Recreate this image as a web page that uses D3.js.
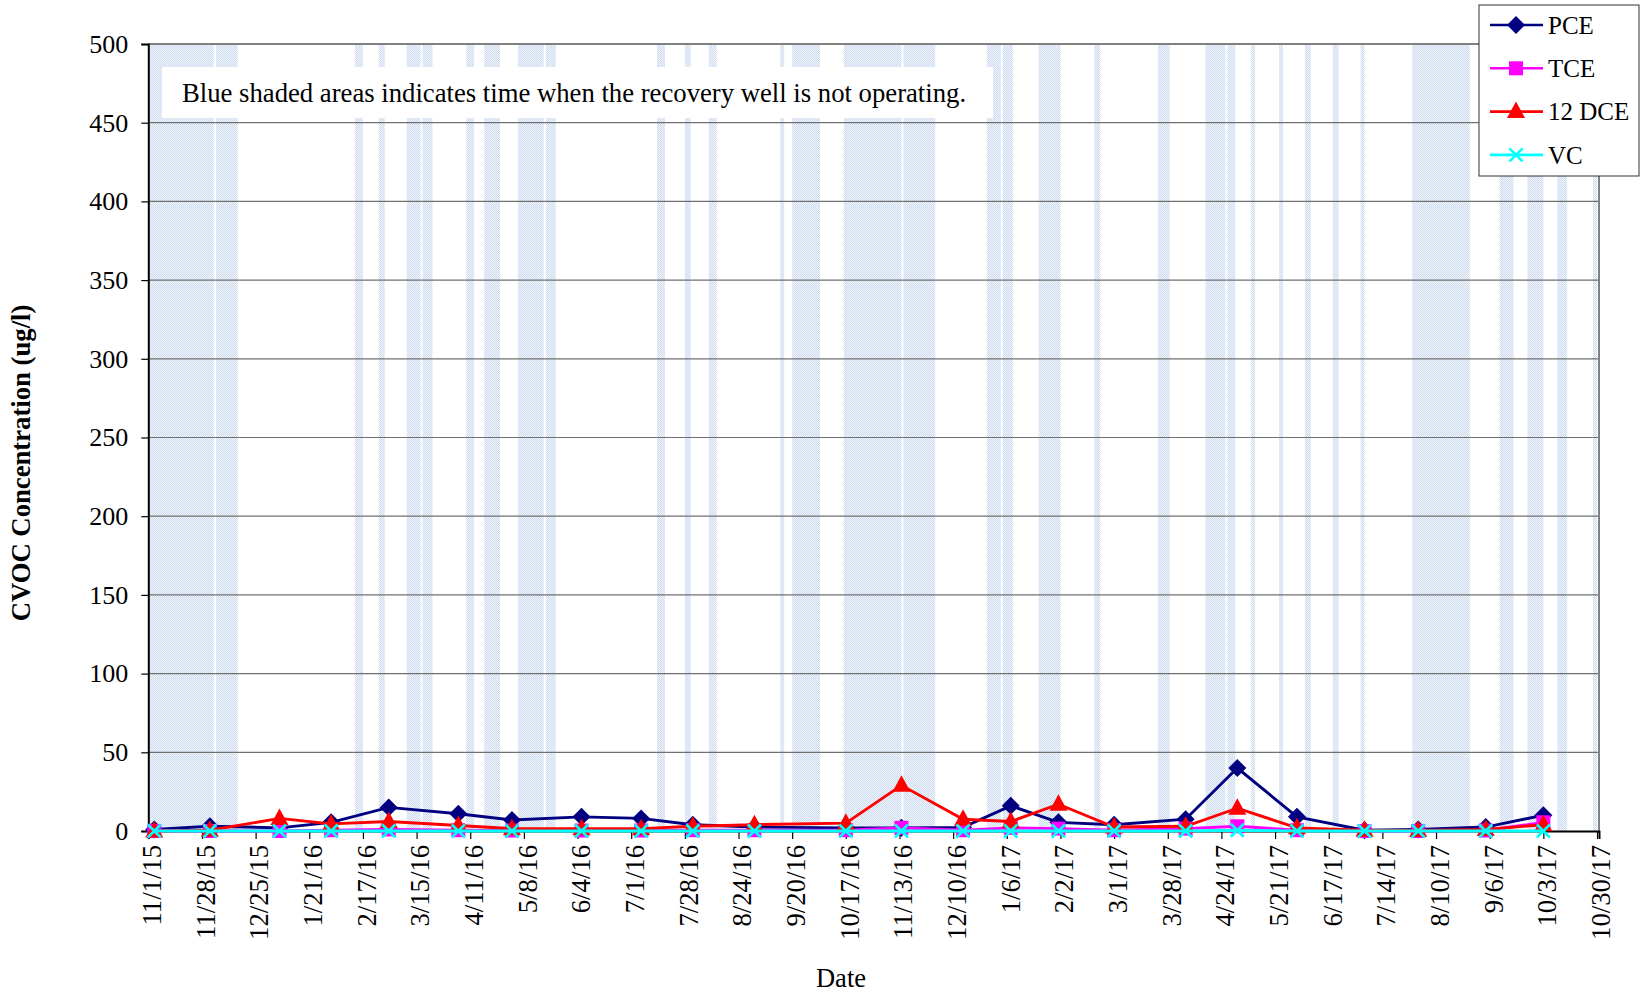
<!DOCTYPE html>
<html>
<head>
<meta charset="utf-8">
<script src="https://cdn.jsdelivr.net/npm/d3@7"></script>
<style>
  html, body { margin: 0; padding: 0; background: #fff; }
  svg { display: block; font-family: "Liberation Serif", "Times New Roman", serif; }
</style>
</head>
<body>
<svg id="chart" width="1642" height="997"></svg>
<script>
// ---------------- DATA ----------------
const sampleDates = ["2015-11-04","2015-12-02","2016-01-06","2016-02-01","2016-03-01","2016-04-05",
  "2016-05-02","2016-06-06","2016-07-06","2016-08-01","2016-09-01","2016-10-17","2016-11-14",
  "2016-12-15","2017-01-08","2017-02-01","2017-03-01","2017-04-06","2017-05-02","2017-06-01",
  "2017-07-05","2017-08-01","2017-09-04","2017-10-03"];
const pce   = [1, 3, 2, 5.5, 15, 11, 7, 9, 8, 4, 2.5, 2, 2, 2.3, 16, 5.5, 4, 7.5, 40, 9, 0.5, 1, 2.5, 10];
const tce   = [0, 0, 0, 0.5, 1, 0.5, 0.3, 0.3, 0.3, 0.5, 0.5, 0.5, 2, 0.5, 2, 1.5, 0.5, 1.5, 3, 0.5, 0, 0, 0.3, 5.5];
const dce12 = [0, 0.5, 8, 4.5, 6, 3.5, 1.5, 1.5, 1.5, 3, 4, 5, 29, 7.5, 6, 17, 2.5, 3, 14.5, 2, 0.5, 0.3, 1, 4];
const vc    = [0, 0, 0, 0, 0, 0, 0, 0, 0, 0, 0, 0, 0, 0, 0, 0, 0, 0, 0.5, 0, 0, 0, 0, 0];

const seriesNames = ["PCE", "TCE", "12 DCE", "VC"];

// periods when the recovery well was not operating [start, end]
const offStarts = ["2015-11-01","2015-12-05","2016-02-13","2016-02-25","2016-03-10","2016-03-18","2016-04-09",
  "2016-04-18","2016-05-05","2016-05-19","2016-07-14","2016-07-28","2016-08-09","2016-09-14","2016-09-20",
  "2016-10-16","2016-11-15","2016-12-27","2017-01-04","2017-01-22","2017-02-19","2017-03-23","2017-04-16",
  "2017-04-27","2017-05-09","2017-05-23","2017-06-05","2017-06-19","2017-07-03","2017-07-29","2017-09-11",
  "2017-09-25","2017-10-10","2017-10-28"];
const offEnds = ["2015-12-04","2015-12-16","2016-02-17","2016-02-28","2016-03-17","2016-03-23","2016-04-13",
  "2016-04-26","2016-05-18","2016-05-24","2016-07-18","2016-07-31","2016-08-13","2016-09-16","2016-10-04",
  "2016-11-14","2016-12-01","2017-01-03","2017-01-09","2017-02-02","2017-02-22","2017-03-29","2017-04-26",
  "2017-05-01","2017-05-11","2017-05-25","2017-06-08","2017-06-22","2017-07-05","2017-08-27","2017-09-18",
  "2017-10-03","2017-10-15","2017-10-30"];

const xTickDates = ["2015-11-01","2015-11-28","2015-12-25","2016-01-21","2016-02-17","2016-03-15","2016-04-11",
  "2016-05-08","2016-06-04","2016-07-01","2016-07-28","2016-08-24","2016-09-20","2016-10-17","2016-11-13",
  "2016-12-10","2017-01-06","2017-02-02","2017-03-01","2017-03-28","2017-04-24","2017-05-21","2017-06-17",
  "2017-07-14","2017-08-10","2017-09-06","2017-10-03","2017-10-30"];
const yTicks = [0, 50, 100, 150, 200, 250, 300, 350, 400, 450, 500];

const noteText = "Blue shaded areas indicates time when the recovery well is not operating.";
const yTitle = "CVOC Concentration (ug/l)";
const xTitle = "Date";

// ---------------- CHART ----------------
const parse = d3.utcParse("%Y-%m-%d");
const fmt = d3.utcFormat("%-m/%-d/%y");
const svg = d3.select("#chart");

const pL = 148.3, pR = 1599, pT = 44, pB = 831;
const x = d3.scaleUtc().domain([parse("2015-11-01"), parse("2017-10-31")]).range([pL, pR]);
const y = d3.scaleLinear().domain([0, 500]).range([pB, pT]);

// pattern for shaded areas
const defs = svg.append("defs");
const pat = defs.append("pattern").attr("id", "dots").attr("width", 2).attr("height", 2)
  .attr("patternUnits", "userSpaceOnUse");
pat.append("rect").attr("width", 2).attr("height", 2).attr("fill", "#f1f5fb");
pat.append("rect").attr("width", 1).attr("height", 1).attr("fill", "#cddbee");
pat.append("rect").attr("x", 1).attr("y", 1).attr("width", 1).attr("height", 1).attr("fill", "#cddbee");

// shaded bands
const bands = offStarts.map((s, i) => ({ s: parse(s), e: parse(offEnds[i]) }));
svg.append("g").selectAll("rect").data(bands).join("rect")
  .attr("x", d => x(d.s))
  .attr("y", pT)
  .attr("width", d => Math.max(1.5, x(d.e) - x(d.s)))
  .attr("height", pB - pT)
  .attr("fill", "url(#dots)");

// gridlines
svg.append("g").selectAll("line").data(yTicks.filter(v => v > 0 && v < 500)).join("line")
  .attr("x1", pL).attr("x2", pR)
  .attr("y1", d => y(d)).attr("y2", d => y(d))
  .attr("stroke", "#707070").attr("stroke-width", 1.2);

// plot frame (top & right, gray)
svg.append("path")
  .attr("d", `M${pL},${pT}H${pR}V${pB}`)
  .attr("fill", "none").attr("stroke", "#808080").attr("stroke-width", 2);

// note box
svg.append("rect").attr("x", 162).attr("y", 67).attr("width", 831).attr("height", 51).attr("fill", "#fff");
svg.append("text").attr("x", 182).attr("y", 101.5).attr("font-size", 26.7).attr("fill", "#000").text(noteText);

// y axis
const yAxis = d3.axisLeft(y).tickValues(yTicks).tickSize(7).tickPadding(13);
const gy = svg.append("g").attr("transform", `translate(${pL},0)`).call(yAxis);
gy.select(".domain").attr("stroke", "#000").attr("stroke-width", 2);
gy.selectAll(".tick line").attr("stroke", "#000").attr("stroke-width", 1.2);
gy.selectAll(".tick text").attr("font-size", 26).attr("font-family", "Liberation Serif").attr("fill", "#000");

// x axis
const xAxis = d3.axisBottom(x).tickValues(xTickDates.map(parse)).tickFormat(fmt).tickSize(8);
const gx = svg.append("g").attr("transform", `translate(0,${pB})`).call(xAxis);
gx.select(".domain").attr("stroke", "#000").attr("stroke-width", 2);
gx.selectAll(".tick line").attr("stroke", "#000").attr("stroke-width", 1.2);
gx.selectAll(".tick text")
  .attr("font-size", 26.7).attr("font-family", "Liberation Serif").attr("fill", "#000")
  .attr("text-anchor", "end")
  .attr("transform", "rotate(-90)")
  .attr("x", -14).attr("y", 3).attr("dy", "0.35em");

// axis titles
svg.append("text").attr("transform", "translate(30,463) rotate(-90)")
  .attr("text-anchor", "middle").attr("font-weight", "bold").attr("font-size", 26.7).text(yTitle);
svg.append("text").attr("x", 841).attr("y", 987).attr("text-anchor", "middle")
  .attr("font-size", 26.5).text(xTitle);

// series
const dates = sampleDates.map(parse);
const series = [
  { name: seriesNames[0], vals: pce, color: "#000080", sym: "diamond" },
  { name: seriesNames[1], vals: tce, color: "#FF00FF", sym: "square" },
  { name: seriesNames[2], vals: dce12, color: "#FF0000", sym: "triangle" },
  { name: seriesNames[3], vals: vc, color: "#00FFFF", sym: "x" }
];
function marker(g, sym, color) {
  if (sym === "diamond") g.append("path").attr("d", "M0,-9L9,0L0,9L-9,0Z").attr("fill", color);
  else if (sym === "square") g.append("rect").attr("x", -7).attr("y", -7).attr("width", 14).attr("height", 14).attr("fill", color);
  else if (sym === "triangle") g.append("path").attr("d", "M0,-10L9,6.5L-9,6.5Z").attr("fill", color);
  else g.append("path").attr("d", "M-6.5,-6.5L6.5,6.5M-6.5,6.5L6.5,-6.5").attr("stroke", color).attr("stroke-width", 2.6).attr("fill", "none");
}
const line = d3.line().x(d => x(d[0])).y(d => y(d[1]));
series.forEach(s => {
  const pts = dates.map((d, i) => [d, s.vals[i]]);
  const g = svg.append("g");
  g.append("path").datum(pts).attr("d", line).attr("fill", "none")
    .attr("stroke", s.color).attr("stroke-width", 2.9);
  pts.forEach(p => {
    const m = g.append("g").attr("transform", `translate(${x(p[0])},${y(p[1])})`);
    marker(m, s.sym, s.color);
  });
});

// legend
const lg = svg.append("g");
lg.append("rect").attr("x", 1479).attr("y", 5).attr("width", 160).attr("height", 171)
  .attr("fill", "#fff").attr("stroke", "#333").attr("stroke-width", 1);
series.forEach((s, i) => {
  const cy = 25 + i * 43.3;
  lg.append("line").attr("x1", 1490).attr("x2", 1543).attr("y1", cy).attr("y2", cy)
    .attr("stroke", s.color).attr("stroke-width", 2.6);
  const m = lg.append("g").attr("transform", `translate(1516,${cy})`);
  marker(m, s.sym, s.color);
  lg.append("text").attr("x", 1548).attr("y", cy).attr("dy", "0.35em").attr("font-size", 25).text(s.name);
});
</script>
</body>
</html>
